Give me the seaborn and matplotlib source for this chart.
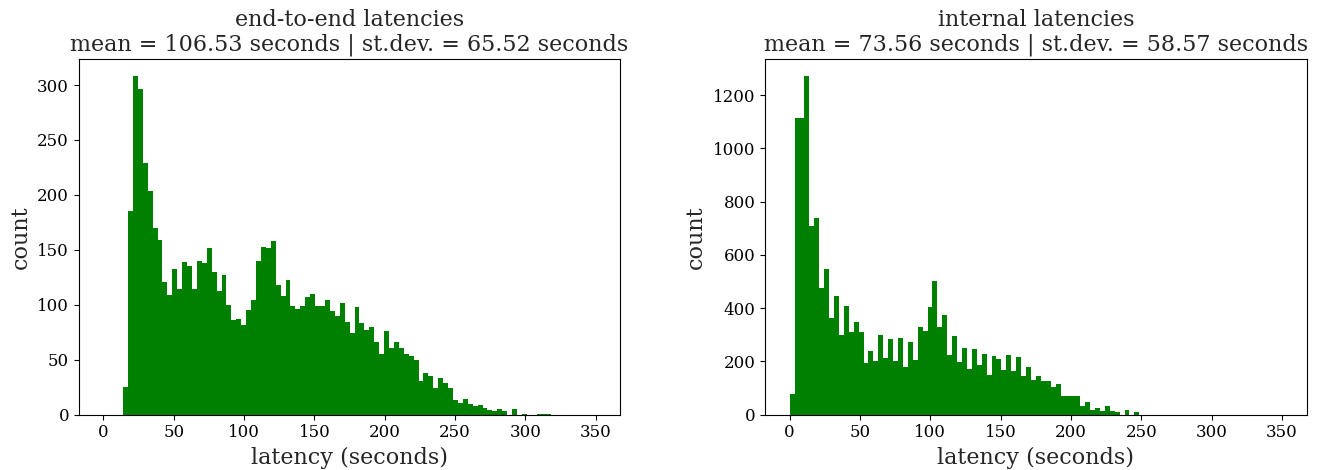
import numpy as np
import pandas as pd
import matplotlib
matplotlib.use('Agg')
import matplotlib.pyplot as plt
import seaborn as sns

# Histogram bins: 100 bins of 3.5 s between 0 and 350 s
BIN_EDGES = np.linspace(0, 350, 101)

# Counts per bin (end-to-end latencies)
e2e_counts = [
    0, 0, 0, 0, 25, 185, 308, 296, 229, 204,
    170, 159, 121, 109, 133, 114, 139, 135, 114, 140,
    138, 152, 130, 113, 127, 100, 86, 87, 82, 95,
    104, 140, 153, 152, 158, 118, 108, 123, 99, 96,
    99, 107, 110, 99, 99, 104, 94, 90, 102, 84,
    74, 98, 83, 77, 80, 66, 55, 76, 61, 66,
    61, 55, 53, 50, 31, 38, 35, 24, 33, 29,
    24, 13, 11, 14, 10, 8, 9, 6, 4, 3,
    5, 3, 0, 5, 0, 1, 0, 0, 1, 1,
    1, 0, 0, 0, 0, 0, 0, 0, 0, 0,
]

# Counts per bin (internal latencies)
internal_counts = [
    78, 1113, 1113, 1271, 708, 738, 476, 548, 363, 444,
    298, 407, 310, 347, 310, 195, 240, 203, 300, 213,
    285, 200, 288, 178, 273, 205, 330, 313, 403, 503,
    328, 375, 224, 297, 197, 249, 173, 245, 187, 229,
    148, 220, 208, 168, 224, 164, 218, 144, 180, 131,
    146, 126, 126, 105, 115, 70, 70, 70, 70, 34,
    49, 17, 26, 14, 33, 14, 10, 0, 16, 0,
    10, 0, 0, 0, 0, 0, 0, 0, 0, 0,
    0, 0, 0, 0, 0, 0, 0, 0, 0, 0,
    0, 0, 0, 0, 0, 0, 0, 0, 0, 0,
]

titles = [
    'end-to-end latencies\nmean = 106.53 seconds | st.dev. = 65.52 seconds',
    'internal latencies\nmean = 73.56 seconds | st.dev. = 58.57 seconds',
]

sns.set_style('ticks')
plt.rcParams['font.family'] = ['DejaVu Serif']
plt.rcParams['axes.edgecolor'] = 'black'
plt.rcParams['xtick.color'] = 'black'
plt.rcParams['ytick.color'] = 'black'

bin_centers = (BIN_EDGES[:-1] + BIN_EDGES[1:]) / 2

fig, axes = plt.subplots(1, 2, figsize=(13.19, 4.70), dpi=100)
fig.subplots_adjust(left=0.0597, right=0.9907, bottom=0.1177, top=0.8738, wspace=0.267)

for ax, counts, title in zip(axes, [e2e_counts, internal_counts], titles):
    df = pd.DataFrame({'latency': bin_centers, 'count': counts})
    sns.histplot(data=df, x='latency', weights='count', bins=BIN_EDGES.tolist(), ax=ax,
                 color='green', alpha=1, linewidth=0)
    ax.set_xlim(-17.5, 367.5)
    ax.set_xticks(np.arange(0, 351, 50))
    ax.set_title(title, fontsize=16)
    ax.set_xlabel('latency (seconds)', fontsize=16)
    ax.set_ylabel('count', fontsize=16)
    ax.tick_params(labelsize=12)
    for spine in ax.spines.values():
        spine.set_visible(True)
        spine.set_linewidth(0.8)

plt.savefig('out.png', dpi=100)
